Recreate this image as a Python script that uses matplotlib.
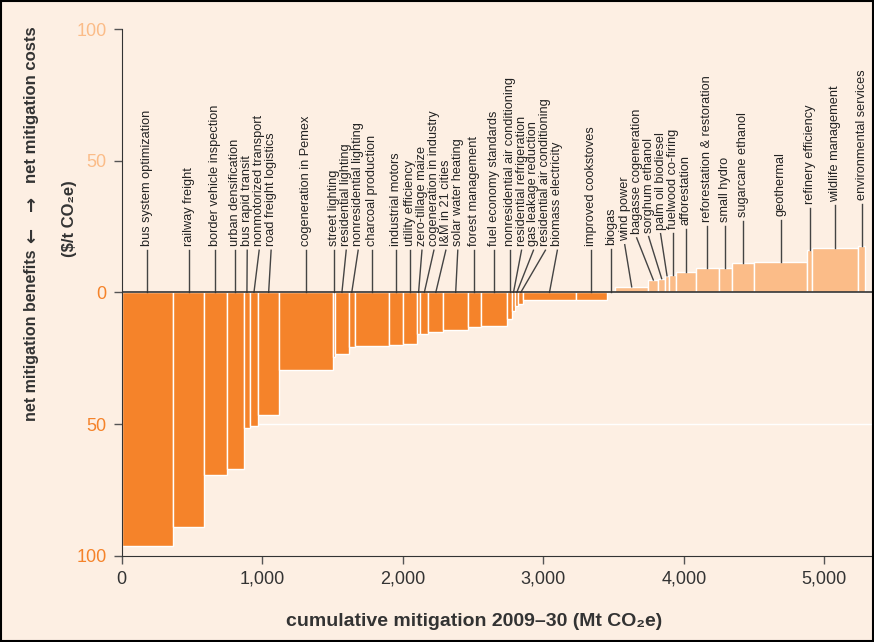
import matplotlib
matplotlib.use('Agg')
import matplotlib.pyplot as plt
from matplotlib.patches import Rectangle
import numpy as np

plt.rcParams['font.family'] = ['Liberation Sans', 'DejaVu Sans']

# abatement measures, left to right
measures = ['bus system optimization', 'railway freight', 'border vehicle inspection',
            'urban densification', 'bus rapid transit', 'nonmotorized transport',
            'road freight logistics', 'cogeneration in Pemex', 'street lighting',
            'residential lighting', 'nonresidential lighting', 'charcoal production',
            'industrial motors', 'utility efficiency', 'zero-tillage maize',
            'cogeneration in industry', 'I&M in 21 cities', 'solar water heating',
            'forest management', 'fuel economy standards', 'nonresidential air conditioning',
            'residential refrigeration', 'gas leakage reduction', 'residential air conditioning',
            'biomass electricity', 'improved cookstoves', 'biogas', 'wind power',
            'bagasse cogeneration', 'sorghum ethanol', 'palm oil biodiesel',
            'fuelwood co-firing', 'afforestation', 'reforestation & restoration',
            'small hydro', 'sugarcane ethanol', 'geothermal', 'refinery efficiency',
            'wildlife management', 'environmental services']
# mitigation volume (Mt CO2e)
volumes = [367, 221, 159, 123, 43, 57, 152, 384, 14, 95, 45, 245, 99, 96, 26, 56,
           107, 176, 90, 190, 31, 25, 22, 35, 373, 221, 59, 237, 71, 48, 28, 50,
           140, 165, 92, 158, 380, 31, 332, 47]
# net cost ($/t CO2e)
costs = [-96.3, -89.2, -69.3, -66.9, -51.6, -50.7, -46.6, -29.3, -24.7, -23.4, -20.7,
         -20.3, -20.1, -19.7, -15.8, -15.7, -15.0, -14.2, -13.3, -12.8, -10.1, -7.2,
         -5.3, -4.4, -2.8, -2.8, 0.3, 2.1, 4.7, 5.2, 6.3, 6.7, 7.9, 9.2, 9.2, 11.2,
         11.5, 15.9, 17.0, 17.6]

neg_color = '#f5832a'
pos_color = '#fbbc88'
bg = '#fdefe3'
ink = '#333333'

fig = plt.figure(figsize=(8.74, 6.42), dpi=100, facecolor=bg)
ax = fig.add_axes([0.1392, 0.1344, 0.8597, 0.8204], facecolor=bg)

vol = np.array(volumes, dtype=float)
cost = np.array(costs)
left = np.concatenate([[0], np.cumsum(vol)[:-1]])
colors = [neg_color if c < 0 else pos_color for c in cost]
ax.bar(left, cost, width=vol, align='edge', color=colors, edgecolor='white',
       linewidth=1, zorder=2)
ax.axhline(-50, color='white', lw=1, zorder=1)
ax.axhline(0, color=ink, lw=1.2, zorder=4)

# spread the labels: negatives pushed right, positives pushed left
centers = left + vol / 2
n_neg = int((cost < 0).sum())
gap = 85
xs = centers.copy()
for i in range(1, n_neg):
    xs[i] = max(xs[i], xs[i-1] + gap)
for i in range(len(xs) - 2, n_neg - 1, -1):
    xs[i] = min(xs[i], xs[i+1] - gap)

for i, name in enumerate(measures):
    base = max(cost[i], 0)
    ax.plot([centers[i], xs[i]], [base, base + 16], color='#444444', lw=1, zorder=3)
    ax.text(xs[i], base + 17.5, name, rotation=90, ha='center', va='bottom',
            fontsize=9.2, color='#222222')

ax.set_xlim(0, 5347)
ax.set_ylim(-100, 100)
yt = [-100, -50, 0, 50, 100]
ax.set_yticks(yt)
ax.set_yticklabels([str(abs(v)) for v in yt])
for lab, v in zip(ax.get_yticklabels(), yt):
    lab.set_color(pos_color if v > 0 else neg_color)
xt = [0, 1000, 2000, 3000, 4000, 5000]
ax.set_xticks(xt)
ax.set_xticklabels(['{:,}'.format(v) for v in xt], color=ink)
ax.tick_params(axis='both', direction='out', length=6, width=1, color='#555555',
               labelsize=13, pad=5)

ax.spines['top'].set_visible(False)
ax.spines['right'].set_visible(False)
ax.spines['left'].set_color(ink)
ax.spines['bottom'].set_color(ink)

# y axis title, in pieces so the arrows can be drawn larger
ykw = dict(rotation=90, ha='center', va='center', fontweight='bold', color=ink)
fig.text(0.0366, 1 - 335 / 642, 'net mitigation benefits', fontsize=11.5, **ykw)
fig.text(0.0366, 1 - 235 / 642, '\u2190', fontsize=13, family='DejaVu Sans', **ykw)
fig.text(0.0366, 1 - 203 / 642, '\u2192', fontsize=13, family='DejaVu Sans', **ykw)
fig.text(0.0366, 1 - 105 / 642, 'net mitigation costs', fontsize=12, **ykw)
fig.text(0.079, 0.659, '(\\$/t CO\u2082e)', fontsize=12, **ykw)
fig.text(0.542, 1 - 621 / 642, 'cumulative mitigation 2009\u201330 (Mt CO\u2082e)',
         ha='center', va='center', fontsize=14, fontweight='bold', color=ink)

fig.add_artist(Rectangle((0.001, 0.001), 0.998, 0.997, transform=fig.transFigure,
                         fill=False, ec='black', lw=1.5))

fig.savefig('out.png', dpi=100, facecolor=bg)
